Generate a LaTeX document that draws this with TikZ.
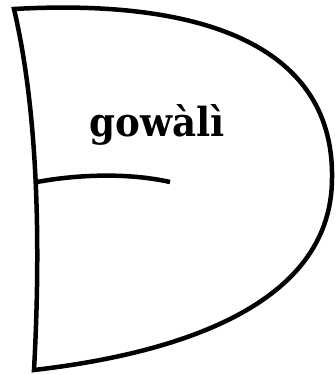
\documentclass[tikz,border=0pt]{standalone}
\usepackage{fontspec}
\setmainfont{DejaVu Serif}
\begin{document}
\begin{tikzpicture}[x=1pt,y=-1pt,
  outline/.style={draw=black,line width=4.5pt},
  label/.style={font=\bfseries\fontsize{40}{44}\selectfont,inner sep=0pt,anchor=base,xscale=0.93}]
\useasboundingbox (0,0) rectangle (335,375);
\draw[outline] (14,9) .. controls (210,-2) and (334,50) .. (332,178)
  .. controls (332,300) and (190,352) .. (34,370)
  .. controls (40,260) and (40,120) .. cycle;
\coordinate (l) at (37,182);
\coordinate (r) at (170,182);
\draw[outline] (l) .. controls (80,174) and (130,173) .. (r);
\node[label] (t) at (157,136) {gowàlì};
\end{tikzpicture}
\end{document}
